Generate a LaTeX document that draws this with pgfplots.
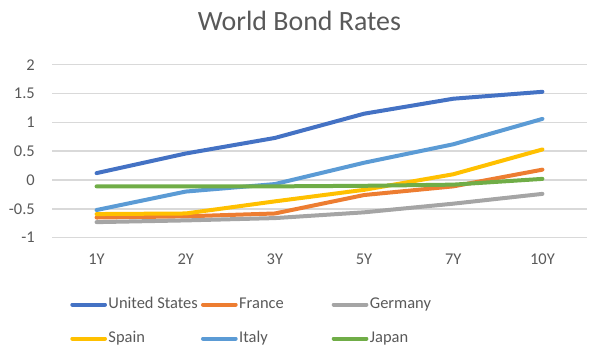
\documentclass[border=0pt]{standalone}
\usepackage{pgfplots}
\pgfplotsset{compat=1.18}
\usepackage{fontspec}
\setmainfont{Carlito}
\definecolor{cUS}{HTML}{4472C4}
\definecolor{cFR}{HTML}{ED7D31}
\definecolor{cDE}{HTML}{A5A5A5}
\definecolor{cES}{HTML}{FFC000}
\definecolor{cIT}{HTML}{5B9BD5}
\definecolor{cJP}{HTML}{70AD47}
\definecolor{txtgray}{HTML}{595959}
\definecolor{gridgray}{HTML}{D9D9D9}
\begin{document}
\begin{tikzpicture}
\path[use as bounding box] (0,0) rectangle (602bp,358bp);
\node[anchor=base, font=\fontsize{28}{32}\selectfont, text=txtgray, inner sep=0pt] at (299.5bp,327bp) {World Bond Rates};
\begin{axis}[
  at={(52bp,120.3bp)}, anchor=south west,
  scale only axis, width=535bp, height=173bp,
  xmin=-0.5, xmax=5.5, ymin=-1, ymax=2,
  axis line style={draw=none},
  major tick length=0pt,
  xtick={0,1,2,3,4,5}, xticklabels={1Y,2Y,3Y,5Y,7Y,10Y},
  ytick={-1,-0.5,0,0.5,1,1.5,2}, yticklabels={-1,-0.5,0,0.5,1,1.5,2},
  ymajorgrids, grid style={draw=gridgray, line width=1.5bp},
  tick label style={font=\fontsize{16.5}{19}\selectfont, text=txtgray, inner sep=0pt},
  xticklabel style={anchor=base, yshift=-27bp},
  yticklabel style={anchor=east, xshift=-17bp},
  legend columns=3,
  legend style={draw=none, fill=none, inner sep=0pt, outer sep=0pt,
    at={(rel axis cs:0.0342,-0.340)}, anchor=north west,
    font=\fontsize{16.5}{19}\selectfont, text=txtgray,
    column sep=1.5bp, row sep=18bp,
    nodes={inner sep=0pt, text height=12bp, text depth=4bp},
    /tikz/every even column/.append style={column sep=0bp}},
  legend image code/.code={\draw[#1, line cap=round] (0bp,0bp) -- (32.7bp,0bp);},
  every axis plot/.append style={line width=4bp, line join=round, line cap=round},
]
\addplot[cUS, no marks] coordinates {(0,0.12) (1,0.46) (2,0.73) (3,1.15) (4,1.41) (5,1.53)};
\addlegendentry{\makebox[92.5bp][l]{United States}}
\addplot[cFR, no marks] coordinates {(0,-0.65) (1,-0.63) (2,-0.58) (3,-0.26) (4,-0.11) (5,0.18)};
\addlegendentry{\makebox[92.5bp][l]{France}}
\addplot[cDE, no marks] coordinates {(0,-0.73) (1,-0.70) (2,-0.66) (3,-0.56) (4,-0.41) (5,-0.24)};
\addlegendentry{\makebox[92.5bp][l]{Germany}}
\addplot[cES, no marks] coordinates {(0,-0.59) (1,-0.58) (2,-0.37) (3,-0.17) (4,0.10) (5,0.53)};
\addlegendentry{\makebox[92.5bp][l]{Spain}}
\addplot[cIT, no marks] coordinates {(0,-0.52) (1,-0.20) (2,-0.07) (3,0.30) (4,0.62) (5,1.06)};
\addlegendentry{\makebox[92.5bp][l]{Italy}}
\addplot[cJP, no marks] coordinates {(0,-0.11) (1,-0.11) (2,-0.11) (3,-0.10) (4,-0.08) (5,0.02)};
\addlegendentry{\makebox[92.5bp][l]{Japan}}
\end{axis}
\end{tikzpicture}
\end{document}
